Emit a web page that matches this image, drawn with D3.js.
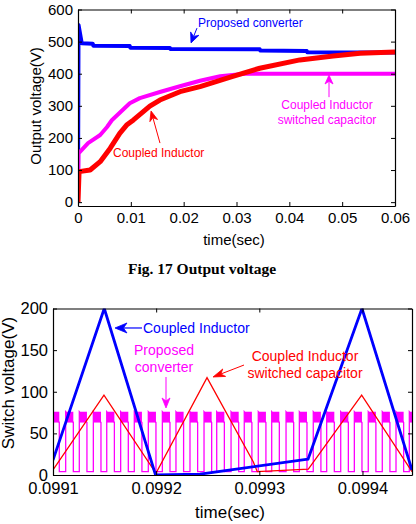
<!DOCTYPE html>
<html><head><meta charset="utf-8">
<script src="https://cdn.jsdelivr.net/npm/d3@7"></script>
<style>
html,body{margin:0;padding:0;background:#fff;}
svg{display:block;}
text{font-family:"Liberation Sans",Arial,sans-serif;}
</style></head>
<body>
<svg id="c" width="416" height="524"></svg>
<script>
// ---------- DATA: top chart (Fig. 17 Output voltage) ----------
const topXTicks = [0, 0.01, 0.02, 0.03, 0.04, 0.05, 0.06];
const topYTicks = [0, 100, 200, 300, 400, 500, 600];
const proposedT = [0, 0.0001, 0.0007, 0.0028, 0.0029, 0.0098, 0.0099, 0.0174, 0.0175, 0.0344, 0.0345, 0.0433, 0.0434, 0.06];
const proposedV = [0, 552, 495, 493, 487, 486, 481, 480, 477, 476, 472, 471, 467, 466];
const ciscT = [0, 0.0001, 0.0019, 0.0042, 0.0055, 0.0064, 0.0098, 0.0117, 0.0155, 0.0193, 0.0231, 0.0269, 0.0316, 0.06];
const ciscV = [0, 152, 184, 209, 234, 255, 308, 324, 343, 361, 378, 392, 400, 400];
const ciT = [0, 0.0002, 0.0023, 0.0042, 0.0061, 0.0079, 0.0092, 0.0105, 0.0136, 0.0155, 0.0193, 0.0231, 0.0293, 0.0344, 0.042, 0.0483, 0.0534, 0.06];
const ciV = [0, 95, 100, 126, 168, 214, 240, 256, 299, 318, 344, 360, 392, 417, 443, 455, 464, 468];

// ---------- DATA: bottom chart (switch voltage) ----------
const botXTicks = [0.0991, 0.0992, 0.0993, 0.0994];
const botYTicks = [0, 50, 100, 150, 200];
const swCiT = [0.0991, 0.0991497, 0.0991994, 0.0992425, 0.0993472, 0.0993995, 0.099448];
const swCiV = [18, 200, 0, 1, 19, 200, 6];
const swCiscT = [0.0991, 0.0991494, 0.0991998, 0.0992493, 0.0992941, 0.0992980, 0.0993475, 0.0993992, 0.099448];
const swCiscV = [6, 96, 2, 117, 16, 4, 7, 96, 4];
const swPropStarts = [0.0990987, 0.0991123, 0.0991255, 0.0991391, 0.0991521, 0.0991656, 0.0991788, 0.0991924, 0.0992060, 0.0992192, 0.0992328, 0.0992464, 0.0992587, 0.0992726, 0.0992854, 0.0992990, 0.0993120, 0.0993259, 0.0993388, 0.0993523, 0.0993653, 0.0993789, 0.0993921, 0.0994056, 0.0994192, 0.0994325, 0.0994454];
const swPropOnTime = 0.0000074;
const swPropHigh = 76, swPropRipple = 63, swPropLow = 4;

// ---------- drawing ----------
const svg = d3.select("#c");
const BLUE = "#0000ff", RED = "#ff0000", MAG = "#ff00ff";
const FONT = "'Liberation Sans', Arial, sans-serif";

function arrow(g, x1, y1, x2, y2, color, L, W, lw) {
  const dx = x2 - x1, dy = y2 - y1, d = Math.hypot(dx, dy);
  const ux = dx / d, uy = dy / d, nx = -uy, ny = ux;
  const bx = x2 - ux * L, by = y2 - uy * L;
  const mx = x2 - ux * L * 0.7, my = y2 - uy * L * 0.7;
  g.append("line").attr("x1", x1).attr("y1", y1).attr("x2", mx).attr("y2", my)
    .attr("stroke", color).attr("stroke-width", lw);
  g.append("path").attr("d", `M${x2},${y2}L${bx + nx * W / 2},${by + ny * W / 2}L${mx},${my}L${bx - nx * W / 2},${by - ny * W / 2}Z`)
    .attr("fill", color).attr("stroke", color).attr("stroke-width", 0.8);
}

function frame(g, x, y, xTicks, yTicks, fmtX, fsize, padX, padY) {
  const [x0, x1] = x.range(), [y0, y1] = y.range();
  const axB = g.append("g").attr("transform", `translate(0,${y0})`)
    .call(d3.axisBottom(x).tickValues(xTicks).tickFormat(fmtX).tickSizeInner(-4).tickSizeOuter(0).tickPadding(padX));
  const axL = g.append("g").attr("transform", `translate(${x0},0)`)
    .call(d3.axisLeft(y).tickValues(yTicks).tickFormat(d3.format("d")).tickSizeInner(-4).tickSizeOuter(0).tickPadding(padY));
  const axT = g.append("g").attr("transform", `translate(0,${y1})`)
    .call(d3.axisTop(x).tickValues(xTicks).tickFormat("").tickSizeInner(-4).tickSizeOuter(0));
  const axR = g.append("g").attr("transform", `translate(${x1},0)`)
    .call(d3.axisRight(y).tickValues(yTicks).tickFormat("").tickSizeInner(-4).tickSizeOuter(0));
  [axB, axL, axT, axR].forEach(a => {
    a.selectAll("path.domain").attr("stroke", "#000").attr("stroke-width", 1.2);
    a.selectAll("line").attr("stroke", "#000").attr("stroke-width", 1);
    a.selectAll("text").attr("fill", "#000").style("font-family", FONT).style("font-size", fsize + "px");
  });
}

// ===== TOP CHART =====
const gT = svg.append("g");
const xT = d3.scaleLinear().domain([0, 0.06]).range([78, 395]);
const yT = d3.scaleLinear().domain([-12, 600]).range([206, 9.5]);
svg.append("clipPath").attr("id", "clipT").append("rect")
  .attr("x", 78).attr("y", 9.5).attr("width", 317).attr("height", 196.5);
const lineT = d3.line().x(d => xT(d[0])).y(d => yT(d[1]));
const plotT = gT.append("g").attr("clip-path", "url(#clipT)");
[[proposedT, proposedV, BLUE, 4], [ciscT, ciscV, MAG, 4], [ciT, ciV, RED, 5]].forEach(([t, v, c, w]) => {
  plotT.append("path").attr("d", lineT(t.map((tt, i) => [tt, v[i]])))
    .attr("fill", "none").attr("stroke", c).attr("stroke-width", w).attr("stroke-linejoin", "round");
});
frame(gT, xT, yT, topXTicks, topYTicks, d => d === 0 ? "0" : d.toFixed(2), 15, 6, 5);
gT.append("text").attr("x", 234).attr("y", 239).attr("text-anchor", "middle").attr("dominant-baseline", "central")
  .style("font-size", "15px").text("time(sec)");
gT.append("text").attr("transform", "translate(35,106) rotate(-90)").attr("text-anchor", "middle").attr("dominant-baseline", "central")
  .style("font-size", "15px").text("Output voltage(V)");
// annotations
gT.append("text").attr("x", xT(0.02271)).attr("y", yT(558)).attr("dominant-baseline", "central")
  .attr("fill", BLUE).style("font-size", "12px").text("Proposed converter");
arrow(gT, xT(0.02252), yT(542), xT(0.02139), yT(496), BLUE, 10, 9, 1);
gT.append("text").attr("x", xT(0.00662)).attr("y", yT(153)).attr("dominant-baseline", "central")
  .attr("fill", RED).style("font-size", "12px").text("Coupled Inductor");
arrow(gT, xT(0.01552), yT(184), xT(0.01382), yT(284), RED, 10, 8, 1);
gT.append("text").attr("x", xT(0.04713)).attr("y", yT(303)).attr("text-anchor", "middle").attr("dominant-baseline", "central")
  .attr("fill", MAG).style("font-size", "12px").text("Coupled Inductor");
gT.append("text").attr("x", xT(0.04713)).attr("y", yT(256)).attr("text-anchor", "middle").attr("dominant-baseline", "central")
  .attr("fill", MAG).style("font-size", "12px").text("switched capacitor");
arrow(gT, xT(0.04751), yT(327), xT(0.04751), yT(396), MAG, 9, 8, 1);

// caption
svg.append("text").attr("x", 202).attr("y", 268).attr("text-anchor", "middle").attr("dominant-baseline", "central")
  .style("font-family", "'Liberation Serif', 'Times New Roman', serif").style("font-weight", "bold").style("font-size", "15.5px")
  .text("Fig. 17 Output voltage");

// ===== BOTTOM CHART =====
const gB = svg.append("g");
const xB = d3.scaleLinear().domain([0.0991, 0.099448]).range([53, 412]);
const yB = d3.scaleLinear().domain([0, 200]).range([475, 308.5]);
svg.append("clipPath").attr("id", "clipB").append("rect")
  .attr("x", 53).attr("y", 308.5).attr("width", 359).attr("height", 166.5);
const plotB = gB.append("g").attr("clip-path", "url(#clipB)");
// proposed converter switching waveform
let pts = [];
swPropStarts.forEach((s, i) => {
  const e = s + swPropOnTime;
  pts.push([s, swPropLow], [s, swPropHigh], [e, swPropRipple], [e, swPropLow]);
});
plotB.append("path").attr("d", d3.line().x(d => xB(d[0])).y(d => yB(d[1]))(pts))
  .attr("fill", "none").attr("stroke", MAG).attr("stroke-width", 1.3);
plotB.selectAll("rect.band").data(swPropStarts).enter().append("rect")
  .attr("x", d => xB(d)).attr("width", d => xB(d + swPropOnTime) - xB(d))
  .attr("y", yB(swPropHigh)).attr("height", yB(swPropRipple) - yB(swPropHigh)).attr("fill", MAG);
const lineB = d3.line().x(d => xB(d[0])).y(d => yB(d[1]));
plotB.append("path").attr("d", lineB(swCiscT.map((t, i) => [t, swCiscV[i]])))
  .attr("fill", "none").attr("stroke", RED).attr("stroke-width", 1.3);
plotB.append("path").attr("d", lineB(swCiT.map((t, i) => [t, swCiV[i]])))
  .attr("fill", "none").attr("stroke", BLUE).attr("stroke-width", 2.8).attr("stroke-linejoin", "round");
frame(gB, xB, yB, botXTicks, botYTicks, d => d.toFixed(4), 16.5, 7, 5);
gB.append("text").attr("x", 230).attr("y", 512).attr("text-anchor", "middle").attr("dominant-baseline", "central")
  .style("font-size", "17px").text("time(sec)");
gB.append("text").attr("transform", "translate(8,383) rotate(-90)").attr("text-anchor", "middle").attr("dominant-baseline", "central")
  .style("font-size", "17px").text("Switch voltage(V)");
// annotations
gB.append("text").attr("x", xB(0.09918724)).attr("y", yB(176.6)).attr("dominant-baseline", "central")
  .attr("fill", BLUE).style("font-size", "14px").text("Coupled Inductor");
arrow(gB, xB(0.09918627), yB(176.6), xB(0.0991601), yB(176.6), BLUE, 12, 10, 1.2);
gB.append("text").attr("x", xB(0.0992076)).attr("y", yB(150.2)).attr("text-anchor", "middle").attr("dominant-baseline", "central")
  .attr("fill", MAG).style("font-size", "14px").text("Proposed");
gB.append("text").attr("x", xB(0.0992076)).attr("y", yB(129.7)).attr("text-anchor", "middle").attr("dominant-baseline", "central")
  .attr("fill", MAG).style("font-size", "14px").text("converter");
arrow(gB, xB(0.09920954), yB(117.7), xB(0.09920954), yB(80.5), MAG, 10, 8, 1);
gB.append("text").attr("x", xB(0.09934428)).attr("y", yB(142.9)).attr("text-anchor", "middle").attr("dominant-baseline", "central")
  .attr("fill", RED).style("font-size", "14px").text("Coupled Inductor");
gB.append("text").attr("x", xB(0.09934428)).attr("y", yB(122.5)).attr("text-anchor", "middle").attr("dominant-baseline", "central")
  .attr("fill", RED).style("font-size", "14px").text("switched capacitor");
arrow(gB, xB(0.09928515), yB(132.1), xB(0.0992551), yB(117.7), RED, 12, 8, 1);
</script>
</body></html>
